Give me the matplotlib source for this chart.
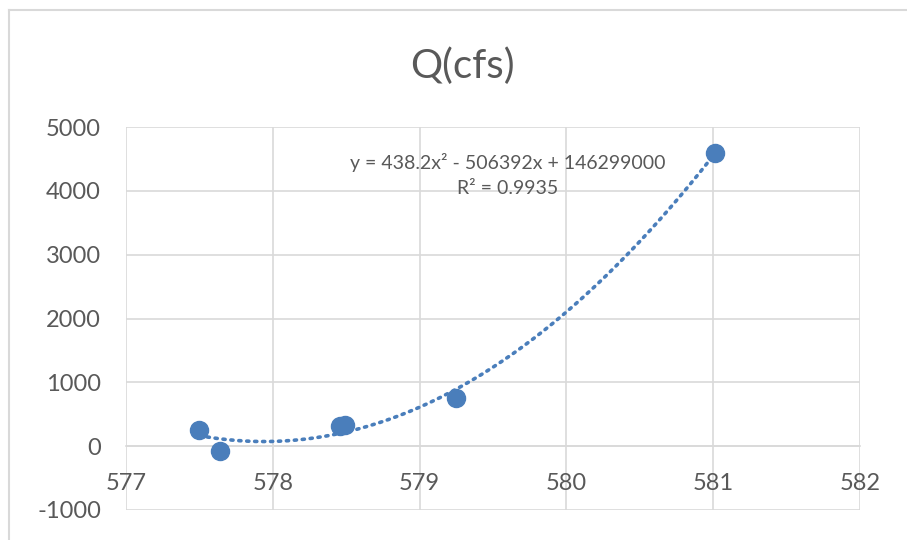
import numpy as np
import matplotlib.pyplot as plt
from matplotlib.lines import Line2D

# stage (ft) vs discharge Q (cfs)
stage = [577.50, 577.64, 578.46, 578.49, 579.25, 581.01]
flow = [260, -70, 310, 325, 750, 4600]

title = "Q(cfs)"
eq_text = "y = 438.2x² - 506392x + 146299000"
r2_text = "R² = 0.9935"

blue = "#4a7ebb"
grey_txt = "#595959"
grid_c = "#d9d9d9"

plt.rcParams['font.family'] = ['Lato', 'DejaVu Sans']
plt.rcParams['axes.unicode_minus'] = False

fig = plt.figure(figsize=(9.07, 5.4), dpi=100)
ax = fig.add_axes([126/907, 1 - 510/540, (860 - 126)/907, (510 - 127)/540])

# polynomial trendline (order 2) fitted to the points
coef = np.polyfit(stage, flow, 2)
xs = np.linspace(min(stage), max(stage), 200)
ax.plot(xs, np.polyval(coef, xs), color=blue, lw=2.6, ls=(0, (0.6, 1.6)),
        dash_capstyle='round', zorder=2)

ax.plot(stage, flow, 'o', color=blue, ms=13, mec=blue, zorder=3)

ax.set_xlim(577, 582)
ax.set_ylim(-1000, 5000)
ax.set_xticks(np.arange(577, 583, 1))
ax.set_yticks(np.arange(-1000, 5001, 1000))
ax.grid(True, color=grid_c, lw=1.2)
ax.set_axisbelow(True)

for s in ['top', 'right', 'left']:
    ax.spines[s].set_visible(False)
ax.spines['bottom'].set_position(('data', 0))
ax.spines['bottom'].set_color(grid_c)
ax.spines['bottom'].set_linewidth(1.2)

ax.tick_params(axis='both', length=0, labelsize=17, labelcolor=grey_txt)
ax.tick_params(axis='y', pad=18)
ax.tick_params(axis='x', pad=19)

fig.text(462/907, 1 - 66/540, title, ha='center', va='center',
         fontsize=29, color=grey_txt)
fig.text(508/907, 1 - 162/540, eq_text, ha='center', va='center',
         fontsize=14, color=grey_txt)
fig.text(508/907, 1 - 188/540, r2_text, ha='center', va='center',
         fontsize=14, color=grey_txt)

# chart area border (left and top edge visible)
fig.add_artist(Line2D([9/907, 9/907], [0, 1 - 10/540], color=grid_c, lw=1.5,
                      transform=fig.transFigure))
fig.add_artist(Line2D([9/907, 1], [1 - 10/540, 1 - 10/540], color=grid_c, lw=1.5,
                      transform=fig.transFigure))

fig.savefig("out.png", dpi=100)
